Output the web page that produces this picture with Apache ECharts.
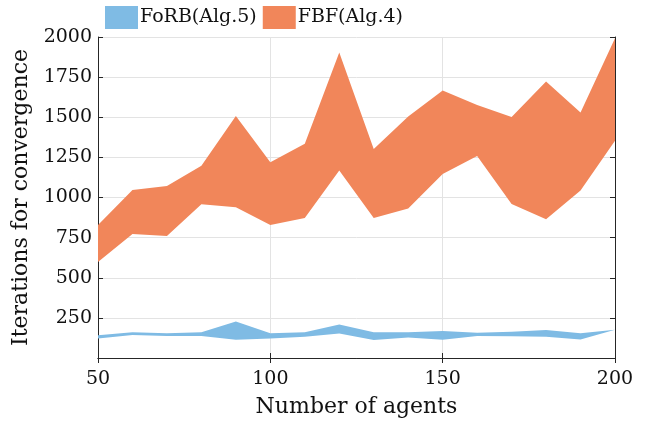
<html>
<head>
<meta charset="utf-8">
<title></title>
<script src="https://cdn.jsdelivr.net/npm/echarts@6/dist/echarts.min.js"></script>
</head>
<body style="margin:0">
<div id="main" style="width:650px;height:428px;"></div>
<script>
var agents = [50, 60, 70, 80, 90, 100, 110, 120, 130, 140, 150, 160, 170, 180, 190, 200];
// FBF(Alg.4) band
var fbfLow  = [598, 772, 760, 958, 939, 829, 872, 1169, 872, 932, 1146, 1258, 960, 864, 1043, 1354];
var fbfHigh = [829, 1047, 1072, 1198, 1508, 1219, 1335, 1904, 1302, 1504, 1666, 1576, 1502, 1723, 1530, 1992];
// FoRB(Alg.5) band
var forbLow  = [122, 143, 137, 137, 114, 122, 133, 152, 112, 127, 114, 137, 135, 133, 116, 168];
var forbHigh = [142, 160, 154, 160, 228, 154, 160, 208, 160, 160, 168, 158, 164, 174, 154, 176];
var xTicks = [50, 100, 150, 200];
var yTicks = [250, 500, 750, 1000, 1250, 1500, 1750, 2000];

var blue = '#7fbbe4';
var orange = '#f1865a';
var font = 'DejaVu Serif';

function diffs(hi, lo){
    var out = [];
    for (var i = 0; i < agents.length; i++) out.push(hi[i] - lo[i]);
    return out;
}
function isXTick(idx){
    return xTicks.indexOf(agents[idx]) >= 0;
}

var myChart = echarts.init(document.getElementById('main'));

var lineDark = {show: true, lineStyle: {color: '#262626', width: 1}};
var tickIn = {show: true, inside: true, length: 5, interval: function(i){ return isXTick(i); }, lineStyle: {color: '#262626'}};
var tickInY = {show: true, inside: true, length: 5, lineStyle: {color: '#262626'}};

var option = {
    animation: false,
    legend: {
        top: 1,
        left: 100,
        itemWidth: 33,
        itemHeight: 23,
        itemGap: 6,
        icon: 'rect',
        textStyle: {fontFamily: font, fontSize: 19, color: '#111', padding: [0, 0, 0, -3]},
        data: [
            {name: 'FoRB(Alg.5)', itemStyle: {color: blue}},
            {name: 'FBF(Alg.4)', itemStyle: {color: orange}}
        ]
    },
    grid: {left: 98, right: 35, top: 37, bottom: 70},
    xAxis: [{
        type: 'category', boundaryGap: false, data: agents,
        name: 'Number of agents', nameLocation: 'middle', nameGap: 38,
        nameTextStyle: {fontFamily: font, fontSize: 22, color: '#111'},
        axisLine: lineDark, axisTick: tickIn,
        axisLabel: {fontFamily: font, fontSize: 19, color: '#111', margin: 12,
                    interval: function(i){ return isXTick(i); }},
        splitLine: {show: true, interval: function(i){ return isXTick(i); }, lineStyle: {color: '#e3e3e3'}}
    }, {
        type: 'category', boundaryGap: false, data: agents, position: 'top',
        axisLine: lineDark, axisTick: tickIn,
        axisLabel: {show: false}, splitLine: {show: false}
    }],
    yAxis: [{
        type: 'value', min: 0, max: 2000, interval: 250,
        name: 'Iterations for convergence', nameLocation: 'middle', nameGap: 57,
        nameTextStyle: {fontFamily: font, fontSize: 22, color: '#111'},
        axisLine: lineDark, axisTick: tickInY,
        axisLabel: {
            fontFamily: font, fontSize: 19, color: '#111', margin: 6,
            formatter: function(v){ return yTicks.indexOf(v) >= 0 ? String(v) : ''; }
        },
        splitLine: {show: true, lineStyle: {color: '#e3e3e3'}}
    }, {
        type: 'value', position: 'right', min: 0, max: 2000, interval: 250,
        axisLine: lineDark, axisTick: tickInY,
        axisLabel: {show: false}, splitLine: {show: false}
    }],
    series: [
        {name: 'forbBase', type: 'line', stack: 'forb', data: forbLow,
         symbol: 'none', lineStyle: {width: 0}, silent: true},
        {name: 'FoRB(Alg.5)', type: 'line', stack: 'forb', data: diffs(forbHigh, forbLow),
         symbol: 'none', lineStyle: {width: 0}, itemStyle: {color: blue},
         areaStyle: {color: blue, opacity: 1}},
        {name: 'fbfBase', type: 'line', stack: 'fbf', data: fbfLow,
         symbol: 'none', lineStyle: {width: 0}, silent: true},
        {name: 'FBF(Alg.4)', type: 'line', stack: 'fbf', data: diffs(fbfHigh, fbfLow),
         symbol: 'none', lineStyle: {width: 0}, itemStyle: {color: orange},
         areaStyle: {color: orange, opacity: 1}}
    ]
};

myChart.setOption(option);
</script>
</body>
</html>
